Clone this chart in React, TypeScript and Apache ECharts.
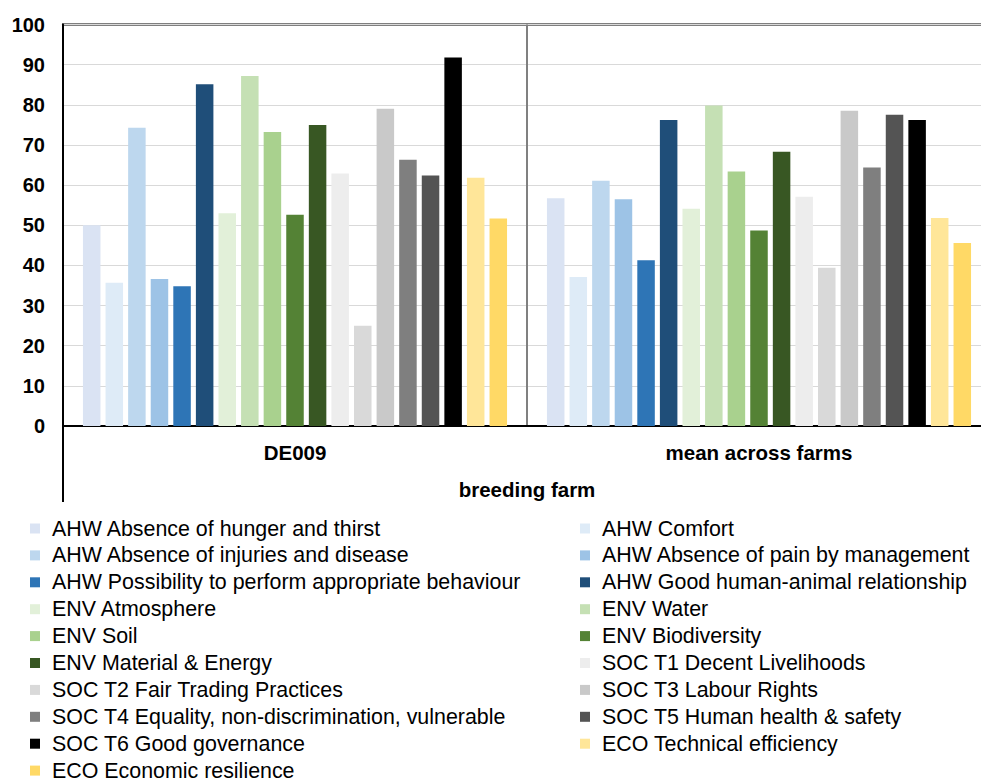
import React, { useEffect, useRef } from "react";
import * as echarts from "echarts";

const categories = ["DE009", "mean across farms"];
const axisTitle = "breeding farm";
const seriesNames = [
  "AHW Absence of hunger and thirst",
  "AHW Comfort",
  "AHW Absence of injuries and disease",
  "AHW Absence of pain by management",
  "AHW Possibility to perform appropriate behaviour",
  "AHW Good human-animal relationship",
  "ENV Atmosphere",
  "ENV Water",
  "ENV Soil",
  "ENV Biodiversity",
  "ENV Material & Energy",
  "SOC T1 Decent Livelihoods",
  "SOC T2 Fair Trading Practices",
  "SOC T3 Labour Rights",
  "SOC T4 Equality, non-discrimination, vulnerable",
  "SOC T5 Human health & safety",
  "SOC T6 Good governance",
  "ECO Technical efficiency",
  "ECO Economic resilience",
];
const de009Values = [50, 35.7, 74.3, 36.6, 34.8, 85.1, 53.0, 87.2, 73.2, 52.6, 75.0, 62.9, 25.0, 79.0, 66.3, 62.4, 91.8, 61.8, 51.7];
const meanValues = [56.7, 37.1, 61.1, 56.5, 41.3, 76.2, 54.1, 79.8, 63.4, 48.7, 68.3, 57.1, 39.4, 78.5, 64.4, 77.5, 76.2, 51.8, 45.6];
const seriesColors = [
  "#dae3f3", "#deebf7", "#bdd7ee", "#9dc3e6", "#2e75b6", "#1f4e79",
  "#e2f0d9", "#c5e0b4", "#a9d18e", "#548235", "#385723",
  "#ededed", "#d9d9d9", "#c9c9c9", "#7f7f7f", "#545454", "#000000",
  "#ffe699", "#ffd966",
];
const yMin = 0;
const yMax = 100;
const yStep = 10;

const FONT = "'Liberation Sans', Arial, sans-serif";
const CHART_W = 1000;
const CHART_H = 820;

export default function App() {
  const ref = useRef<HTMLDivElement>(null);
  useEffect(() => {
    if (!ref.current) return;
    const chart = echarts.init(ref.current, null, { renderer: "svg" });
    const legendBase = {
      orient: "vertical" as const,
      top: 518,
      height: 290,
      padding: 0,
      itemWidth: 10,
      itemHeight: 10,
      itemGap: 5.9,
      icon: "rect",
      textStyle: {
        fontFamily: FONT,
        fontSize: 21.4,
        lineHeight: 21,
        color: "#000",
        padding: [0, 0, 0, 7],
      },
    };
    chart.setOption({
      animation: false,
      textStyle: { fontFamily: FONT },
      grid: {
        left: 63,
        right: CHART_W - 991,
        top: 24.5,
        bottom: CHART_H - 426,
        show: true,
        borderColor: "#000",
        borderWidth: 2,
        backgroundColor: "transparent",
      },
      legend: [
        { ...legendBase, left: 30, data: seriesNames.filter((_, i) => i % 2 === 0) },
        { ...legendBase, left: 580, data: seriesNames.filter((_, i) => i % 2 === 1) },
      ],
      xAxis: {
        type: "category",
        data: categories,
        name: axisTitle,
        nameLocation: "middle",
        nameGap: 53,
        nameTextStyle: { fontFamily: FONT, fontSize: 20.5, fontWeight: "bold", color: "#000" },
        axisLine: { show: true, lineStyle: { color: "#000", width: 2 } },
        axisTick: { show: false },
        axisLabel: { margin: 15.5, fontFamily: FONT, fontSize: 20.5, fontWeight: "bold", color: "#000" },
        splitLine: { show: true, lineStyle: { color: "#808080", width: 2 } },
      },
      yAxis: {
        type: "value",
        min: yMin,
        max: yMax,
        interval: yStep,
        axisLine: { show: true, lineStyle: { color: "#000", width: 2 } },
        axisTick: { show: false },
        axisLabel: { margin: 18, fontFamily: FONT, fontSize: 20, fontWeight: "bold", color: "#000" },
        splitLine: { show: true, lineStyle: { color: "#d9d9d9", width: 1.2 } },
      },
      graphic: [
        {
          type: "line",
          shape: { x1: 63, y1: 426, x2: 63, y2: 502 },
          style: { stroke: "#000", lineWidth: 2 },
        },
      ],
      series: seriesNames.map((name, i) => ({
        type: "bar",
        name,
        data: [de009Values[i], meanValues[i]],
        itemStyle: { color: seriesColors[i] },
        barCategoryGap: "8.6%",
        barGap: "29%",
      })),
    });
    return () => chart.dispose();
  }, []);
  return (
    <div style={{ position: "fixed", left: 0, top: 0, width: 981, height: 783, overflow: "hidden", background: "#fff" }}>
      <div ref={ref} style={{ width: CHART_W, height: CHART_H }} />
    </div>
  );
}
